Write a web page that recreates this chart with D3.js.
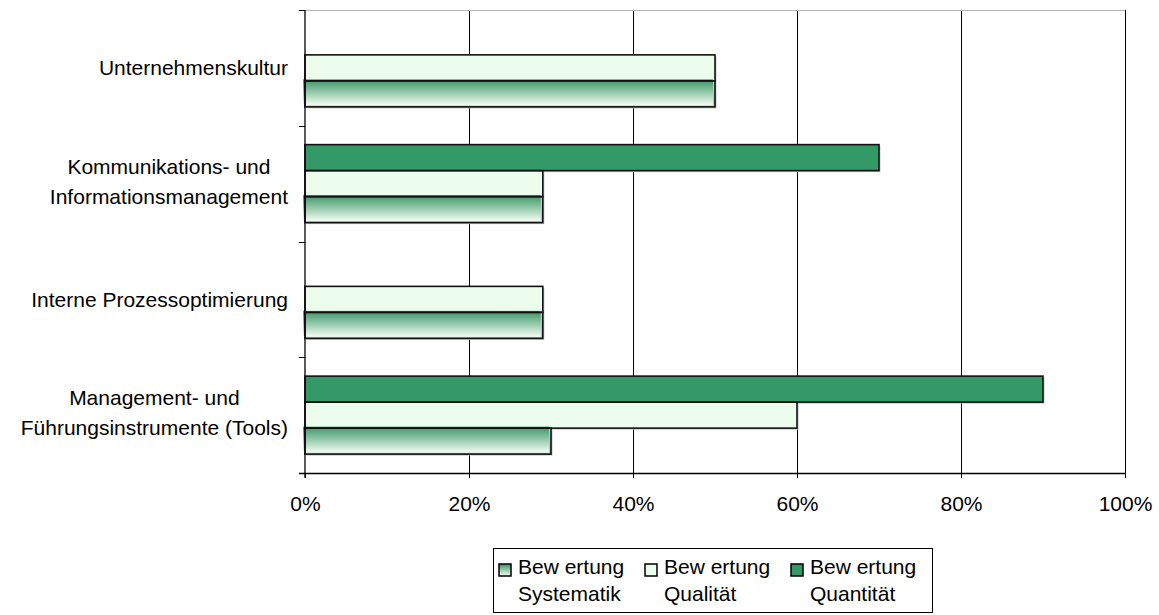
<!DOCTYPE html>
<html>
<head>
<meta charset="utf-8">
<script src="https://cdn.jsdelivr.net/npm/d3@7"></script>
<style>
  html, body { margin: 0; padding: 0; background: #fff; }
  svg { display: block; font-family: "Liberation Sans", Arial, sans-serif; }
</style>
</head>
<body>
<svg id="chart" width="1159" height="615"></svg>
<script>
// Categories, listed from the bottom of the chart upward
const categories = [
  ["Management- und", "Führungsinstrumente (Tools)"],
  ["Interne Prozessoptimierung"],
  ["Kommunikations- und", "Informationsmanagement"],
  ["Unternehmenskultur"]
];
// Series values in percent, same order as categories
const systematik = [30, 29, 29, 50];
const qualitaet  = [60, 29, 29, 50];
const quantitaet = [90, 0, 70, 0];
const seriesNames = ["Bew ertung Systematik", "Bew ertung Qualität", "Bew ertung Quantität"];
const xTicks = [0, 20, 40, 60, 80, 100];

const svg = d3.select("#chart");
const plotLeft = 305, plotRight = 1125, plotTop = 10, plotBottom = 473;

const defs = svg.append("defs");
const grad = defs.append("linearGradient").attr("id", "gradSys")
  .attr("x1", 0).attr("y1", 0).attr("x2", 0).attr("y2", 1);
grad.append("stop").attr("offset", "0%").attr("stop-color", "#3a9566");
grad.append("stop").attr("offset", "100%").attr("stop-color", "#f3fdf3");

const catKeys = categories.map(c => c.join(" "));
const y = d3.scaleBand().domain(catKeys.slice().reverse()).range([plotTop, plotBottom]);
const x = d3.scaleLinear().domain([0, 100]).range([plotLeft, plotRight]);

// series order inside a group, top to bottom
const inner = d3.scaleBand().domain(["quant", "qual", "sys"])
  .range([0, y.bandwidth()]).paddingOuter(0.726);

// vertical gridlines
svg.append("g").selectAll("line").data(xTicks.filter(d => d > 0)).join("line")
  .attr("x1", d => x(d) + 0.5).attr("x2", d => x(d) + 0.5)
  .attr("y1", plotTop).attr("y2", plotBottom)
  .attr("stroke", "#000").attr("stroke-width", 1);

// faint top edge of the plot area
svg.append("line").attr("x1", plotLeft - 6).attr("x2", plotRight)
  .attr("y1", plotTop + 0.5).attr("y2", plotTop + 0.5)
  .attr("stroke", "#b4b4b4").attr("stroke-width", 1);

const rows = catKeys.map((k, i) => ({
  key: k,
  sys: systematik[i],
  qual: qualitaet[i],
  quant: quantitaet[i]
}));

const styles = {
  quant: { fill: "#339966" },
  qual: { fill: "#ecfdee" },
  sys: { fill: "url(#gradSys)" }
};

const bars = [];
rows.forEach(r => {
  ["quant", "qual", "sys"].forEach(s => {
    if (r[s] > 0) bars.push({ key: r.key, s, v: r[s] });
  });
});

const gBars = svg.append("g");
// drop shadows
gBars.selectAll("rect.shadow").data(bars).join("rect")
  .attr("class", "shadow")
  .attr("x", x(0) + 1.5)
  .attr("y", d => y(d.key) + inner(d.s) + 1.5)
  .attr("width", d => x(d.v) - x(0))
  .attr("height", inner.bandwidth())
  .attr("fill", "#c4c4c4");
// fills
gBars.selectAll("rect.fill").data(bars).join("rect")
  .attr("class", "fill")
  .attr("x", d => d.s === "sys" ? x(0) - 2 : x(0))
  .attr("y", d => y(d.key) + inner(d.s) - (d.s === "sys" ? 1.5 : 0))
  .attr("width", d => x(d.v) - x(0))
  .attr("height", inner.bandwidth())
  .attr("fill", d => styles[d.s].fill);
// outlines
gBars.selectAll("rect.edge").data(bars).join("rect")
  .attr("class", "edge")
  .attr("x", x(0))
  .attr("y", d => y(d.key) + inner(d.s))
  .attr("width", d => x(d.v) - x(0))
  .attr("height", inner.bandwidth())
  .attr("fill", "none")
  .attr("stroke", "#111").attr("stroke-width", 1.6);

// y axis line and tick marks at category boundaries
const bounds = catKeys.map(k => y(k)).concat([y.range()[0], y.range()[1]]);
svg.append("line").attr("x1", plotLeft).attr("x2", plotLeft)
  .attr("y1", plotTop).attr("y2", plotBottom + 5)
  .attr("stroke", "#000").attr("stroke-width", 1.3);
svg.append("g").selectAll("line").data(Array.from(new Set(bounds))).join("line")
  .attr("x1", plotLeft - 6).attr("x2", plotLeft)
  .attr("y1", d => Math.round(d) + 0.5).attr("y2", d => Math.round(d) + 0.5)
  .attr("stroke", "#000").attr("stroke-width", 1);

// x axis
const xAxis = d3.axisBottom(x).tickValues(xTicks).tickFormat(d => d + "%")
  .tickSize(5).tickPadding(18);
const gx = svg.append("g").attr("transform", `translate(0,${plotBottom})`).call(xAxis);
gx.select(".domain").attr("stroke", "#000").attr("stroke-width", 1.3)
  .attr("d", `M${plotLeft - 6},0.5H${plotRight}`);
gx.selectAll(".tick line").attr("stroke", "#000");
gx.selectAll(".tick text")
  .attr("font-family", "'Liberation Sans', Arial, sans-serif")
  .attr("font-size", 21).attr("fill", "#000");

// category labels, each block centred with its right edge next to the axis
const labelRight = 288;
categories.forEach((lines, i) => {
  const cy = y(catKeys[i]) + y.bandwidth() / 2;
  const t = svg.append("text").attr("font-size", 21).attr("fill", "#000")
    .attr("text-anchor", "middle");
  const n = lines.length;
  const spans = lines.map((ln, j) => t.append("tspan").text(ln)
    .attr("y", n === 1 ? cy + 7.5 : cy - 2 + 7 + (j - (n - 1) / 2) * 30));
  const w = d3.max(spans, s => s.node().getComputedTextLength());
  spans.forEach(s => s.attr("x", labelRight - w / 2));
});

// legend
const lg = svg.append("g");
lg.append("rect").attr("x", 493.5).attr("y", 548.5).attr("width", 439).attr("height", 64)
  .attr("fill", "#fff").attr("stroke", "#000").attr("stroke-width", 1);
const legendFills = ["url(#gradSys)", "#ecfdee", "#339966"];
seriesNames.forEach((name, i) => {
  const tx = 518 + i * 146;
  lg.append("rect").attr("x", tx - 19).attr("y", 564).attr("width", 12).attr("height", 12)
    .attr("fill", legendFills[i]).attr("stroke", "#000").attr("stroke-width", 1.5);
  const parts = name.split(" ");
  const t = lg.append("text").attr("font-size", 21).attr("fill", "#000");
  t.append("tspan").attr("x", tx).attr("y", 574).text(parts.slice(0, 2).join(" "));
  t.append("tspan").attr("x", tx).attr("y", 601).text(parts.slice(2).join(" "));
});
</script>
</body>
</html>
